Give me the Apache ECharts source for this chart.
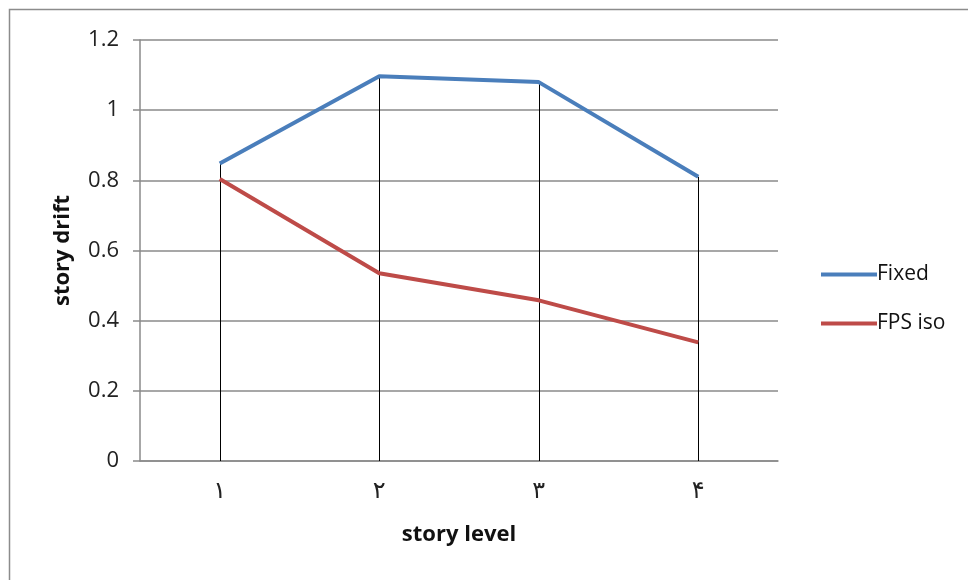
<!DOCTYPE html>
<html>
<head>
<meta charset="utf-8">
<script src="https://cdn.jsdelivr.net/npm/echarts@6/dist/echarts.min.js"></script>
<style>html,body{margin:0;padding:0;background:#fff;}#c{width:968px;height:580px;}</style>
</head>
<body>
<div id="c"></div>
<script>
const categories = ['۱', '۲', '۳', '۴'];
const fixedValues = [0.848, 1.097, 1.080, 0.810];
const fpsIsoValues = [0.804, 0.535, 0.458, 0.338];
const yTicks = { min: 0, max: 1.2, interval: 0.2 };
const seriesNames = ['Fixed', 'FPS iso'];

const chart = echarts.init(document.getElementById('c'), null, { renderer: 'canvas' });
const font = '"Open Sans", "DejaVu Sans", sans-serif';

const dropLines = categories.map((c, i) => [
  { coord: [i, Math.max(fixedValues[i], fpsIsoValues[i])] },
  { coord: [i, 0] }
]);

chart.setOption({
  animation: false,
  backgroundColor: '#fff',
  graphic: [{
    type: 'rect',
    shape: { x: 9.5, y: 9.5, width: 1000, height: 1000 },
    style: { fill: 'none', stroke: '#8c8c8c', lineWidth: 1.5 },
    z: 0
  }],
  grid: { left: 140, right: 190, top: 40, bottom: 119 },
  legend: {
    orient: 'vertical',
    left: 816,
    top: 259,
    itemWidth: 56,
    itemHeight: 22,
    itemGap: 28,
    textStyle: { fontFamily: font, fontSize: 21, color: '#111', padding: [0, 0, 0, -5] },
    data: [
      { name: seriesNames[0], itemStyle: { color: '#4a7ebb' }, icon: 'path://M0,9 L56,9 L56,13 L0,13 Z' },
      { name: seriesNames[1], itemStyle: { color: '#be4b48' }, icon: 'path://M0,9 L56,9 L56,13 L0,13 Z' }
    ]
  },
  xAxis: {
    type: 'category',
    data: categories,
    boundaryGap: true,
    name: 'story level',
    nameLocation: 'middle',
    nameGap: 63,
    nameTextStyle: { fontFamily: font, fontSize: 22, fontWeight: 'bold', color: '#111' },
    axisLine: { lineStyle: { color: '#8a8a8a', width: 1.5 } },
    axisTick: { show: false },
    axisLabel: { fontFamily: '"DejaVu Sans", sans-serif', fontSize: 24, color: '#222', margin: 19 },
    splitLine: { show: false }
  },
  yAxis: {
    type: 'value',
    min: yTicks.min,
    max: yTicks.max,
    interval: yTicks.interval,
    name: 'story drift',
    nameLocation: 'middle',
    nameGap: 66,
    nameTextStyle: { fontFamily: font, fontSize: 22, fontWeight: 'bold', color: '#111' },
    axisLine: { show: true, lineStyle: { color: '#8a8a8a', width: 1.5 } },
    axisTick: { show: true, length: 7, lineStyle: { color: '#8a8a8a', width: 1.5 } },
    axisLabel: { fontFamily: font, fontSize: 22, color: '#222', margin: 21,
      formatter: v => String(Math.round(v * 10) / 10) },
    splitLine: { show: true, lineStyle: { color: '#8a8a8a', width: 1.5 } }
  },
  series: [
    {
      name: seriesNames[0],
      type: 'line',
      data: fixedValues,
      symbol: 'none',
      lineStyle: { color: '#4a7ebb', width: 4 },
      itemStyle: { color: '#4a7ebb' },
      z: 3,
      markLine: {
        silent: true,
        symbol: ['none', 'none'],
        label: { show: false },
        lineStyle: { color: '#000', width: 1, type: 'solid' },
        data: dropLines,
        z: 1
      }
    },
    {
      name: seriesNames[1],
      type: 'line',
      data: fpsIsoValues,
      symbol: 'none',
      lineStyle: { color: '#be4b48', width: 4 },
      itemStyle: { color: '#be4b48' },
      z: 4
    }
  ]
});
</script>
</body>
</html>
